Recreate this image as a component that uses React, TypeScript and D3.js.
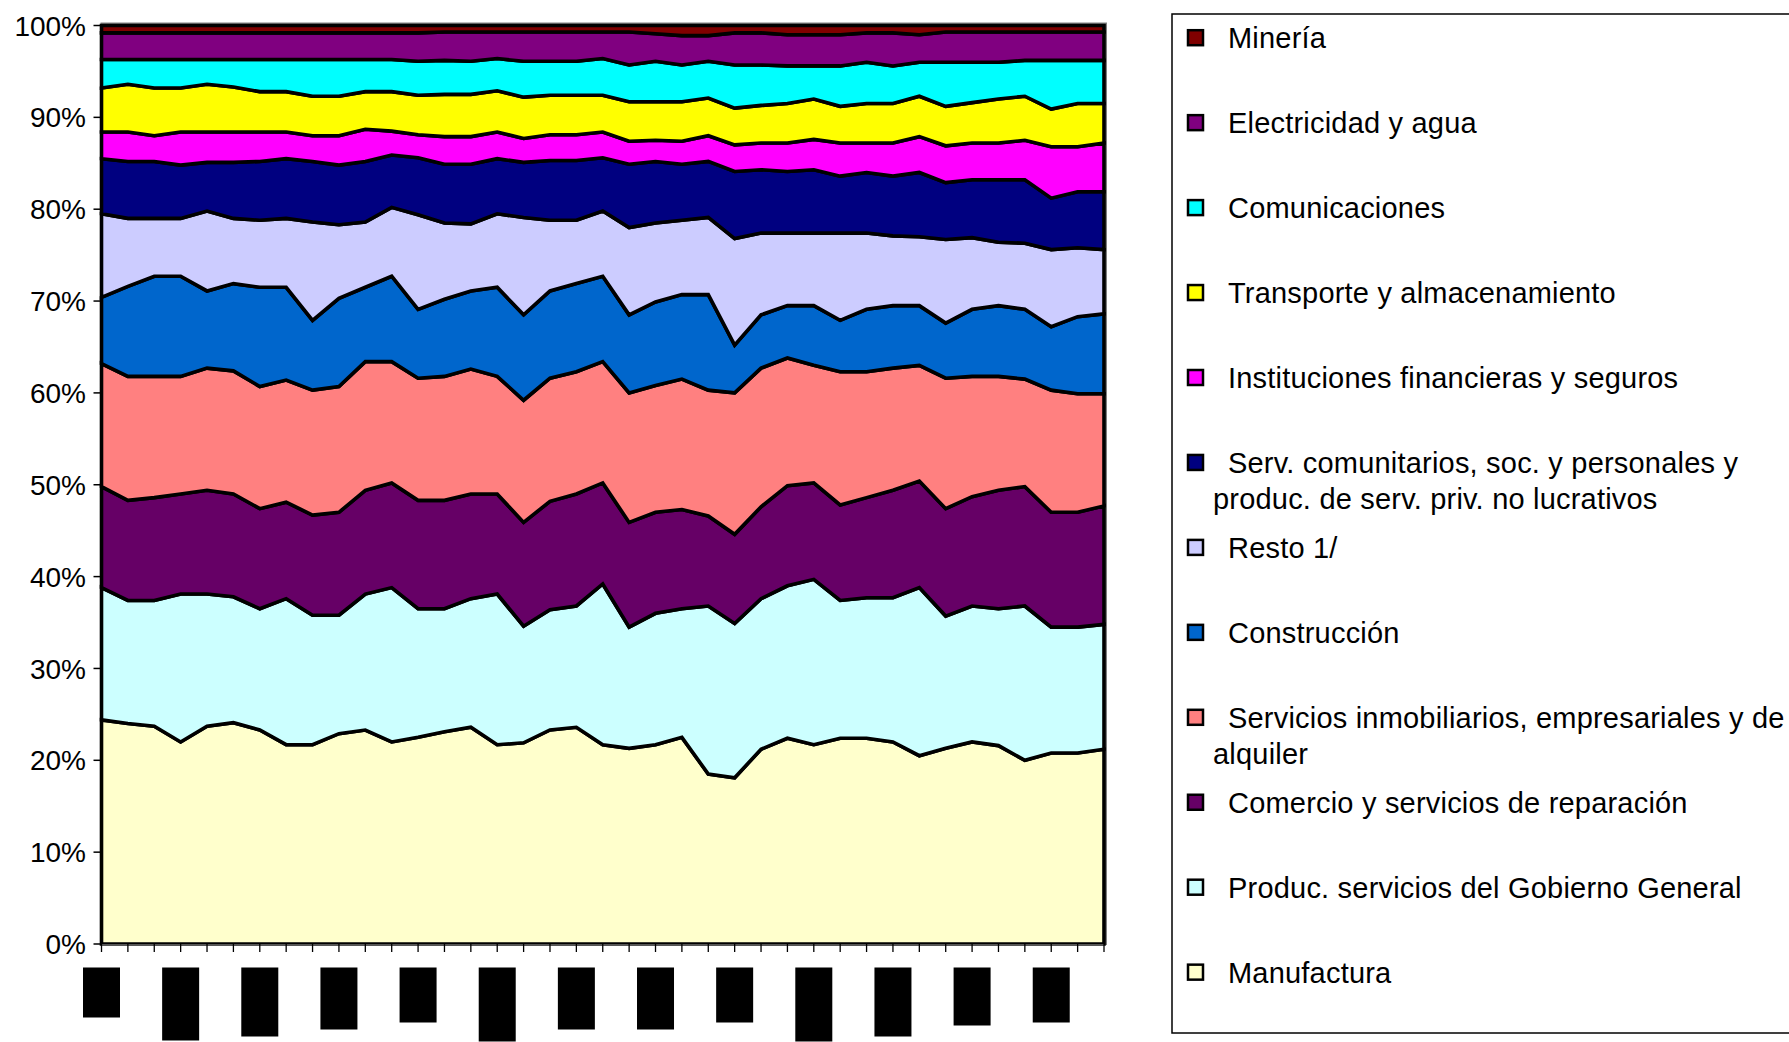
import React from "react";
import * as d3 from "d3";

// Shares (%) by period (39 periods)
const manufactura = [24.4, 24.0, 23.7, 22.0, 23.7, 24.1, 23.3, 21.7, 21.7, 22.9, 23.3, 22.0, 22.5, 23.1, 23.6, 21.7, 21.9, 23.3, 23.6, 21.7, 21.3, 21.7, 22.5, 18.5, 18.1, 21.2, 22.4, 21.7, 22.4, 22.4, 22.0, 20.5, 21.3, 22.0, 21.6, 20.0, 20.8, 20.8, 21.2];
const gobierno = [14.4, 13.4, 13.7, 16.1, 14.4, 13.7, 13.2, 15.9, 14.1, 12.9, 14.8, 16.8, 14.0, 13.4, 14.0, 16.4, 12.7, 13.1, 13.2, 17.5, 13.2, 14.3, 14.0, 18.3, 16.8, 16.4, 16.6, 18.0, 15.0, 15.3, 15.7, 18.3, 14.4, 14.8, 14.9, 16.8, 13.7, 13.7, 13.6];
const comercio = [11.0, 10.9, 11.2, 10.9, 11.3, 11.2, 10.9, 10.5, 10.9, 11.2, 11.3, 11.4, 11.8, 11.8, 11.4, 10.9, 11.3, 11.8, 12.2, 11.0, 11.4, 11.0, 10.8, 9.8, 9.7, 10.0, 10.9, 10.5, 10.4, 10.9, 11.7, 11.6, 11.7, 11.9, 12.9, 13.0, 12.5, 12.5, 12.9];
const inmobiliarios = [13.4, 13.5, 13.2, 12.8, 13.3, 13.4, 13.3, 13.3, 13.6, 13.7, 14.0, 13.2, 13.3, 13.5, 13.6, 12.8, 13.3, 13.4, 13.3, 13.2, 14.1, 13.8, 14.2, 13.7, 15.4, 15.1, 13.9, 12.8, 14.5, 13.7, 13.3, 12.6, 14.2, 13.1, 12.4, 11.7, 13.3, 12.9, 12.2];
const construccion = [7.2, 9.8, 10.9, 10.9, 8.4, 9.5, 10.8, 10.1, 7.6, 9.6, 8.1, 9.3, 7.5, 8.4, 8.5, 9.7, 9.3, 9.5, 9.6, 9.3, 8.5, 9.1, 9.2, 10.4, 5.2, 5.8, 5.7, 6.5, 5.6, 6.8, 6.8, 6.5, 6.0, 7.3, 7.7, 7.6, 6.9, 8.4, 8.7];
const resto = [9.1, 7.4, 6.3, 6.3, 8.7, 7.1, 7.3, 7.5, 10.7, 8.0, 7.1, 7.5, 10.3, 8.3, 7.3, 8.0, 10.6, 7.7, 6.9, 7.1, 9.5, 8.6, 8.1, 8.4, 11.6, 8.9, 7.9, 7.9, 9.5, 8.3, 7.6, 7.5, 9.1, 7.8, 6.9, 7.2, 8.4, 7.5, 7.0];
const servComunitarios = [6.0, 6.2, 6.2, 5.8, 5.3, 6.1, 6.4, 6.5, 6.6, 6.5, 6.6, 5.7, 6.2, 6.4, 6.5, 6.0, 6.0, 6.5, 6.5, 5.8, 6.9, 6.7, 6.1, 6.1, 7.3, 6.9, 6.7, 6.9, 6.2, 6.6, 6.5, 7.0, 6.2, 6.3, 6.8, 6.9, 5.6, 6.1, 6.3];
const financieras = [2.9, 3.2, 2.8, 3.6, 3.3, 3.3, 3.2, 2.9, 2.8, 3.2, 3.5, 2.6, 2.5, 3.0, 3.0, 2.9, 2.6, 2.8, 2.8, 2.8, 2.5, 2.3, 2.5, 2.8, 2.9, 2.9, 3.1, 3.3, 3.6, 3.2, 3.6, 3.9, 4.0, 4.0, 4.0, 4.3, 5.6, 4.9, 5.3];
const transporte = [4.8, 5.2, 5.2, 4.8, 5.2, 4.9, 4.4, 4.4, 4.3, 4.3, 4.1, 4.3, 4.3, 4.6, 4.6, 4.5, 4.5, 4.3, 4.3, 4.0, 4.3, 4.2, 4.3, 4.1, 4.0, 4.1, 4.3, 4.4, 4.0, 4.3, 4.3, 4.4, 4.3, 4.4, 4.8, 4.8, 4.1, 4.7, 4.3];
const comunicaciones = [3.1, 2.7, 3.1, 3.1, 2.7, 3.0, 3.5, 3.5, 4.0, 4.0, 3.5, 3.5, 3.7, 3.7, 3.6, 3.5, 3.9, 3.7, 3.7, 4.0, 4.0, 4.4, 4.0, 4.0, 4.7, 4.4, 4.1, 3.6, 4.4, 4.5, 4.1, 3.7, 4.8, 4.4, 4.0, 3.9, 5.3, 4.7, 4.7];
const electricidad = [2.9, 2.9, 2.9, 2.9, 2.9, 2.9, 2.9, 2.9, 2.9, 2.9, 2.9, 2.9, 3.1, 3.1, 3.2, 2.9, 3.2, 3.2, 3.2, 2.9, 3.6, 3.0, 3.2, 2.8, 3.5, 3.5, 3.4, 3.4, 3.4, 3.2, 3.6, 3.0, 3.3, 3.3, 3.3, 3.1, 3.1, 3.1, 3.1];
const mineria = [0.8, 0.8, 0.8, 0.8, 0.8, 0.8, 0.8, 0.8, 0.8, 0.8, 0.8, 0.8, 0.8, 0.7, 0.7, 0.7, 0.7, 0.7, 0.7, 0.7, 0.7, 0.9, 1.1, 1.1, 0.8, 0.8, 1.0, 1.0, 1.0, 0.8, 0.8, 1.0, 0.7, 0.7, 0.7, 0.7, 0.7, 0.7, 0.7];

// Periods (their labels are blacked out in the reference); every third one carries a label box
const periods = d3.range(manufactura.length);
const labelBoxLengths = [50, 73, 69, 62, 55, 74, 62, 62, 55, 74, 69, 58, 55];
const yTicks = [0, 0.1, 0.2, 0.3, 0.4, 0.5, 0.6, 0.7, 0.8, 0.9, 1];

// Series, bottom of the stack first
const seriesKeys = ["manufactura", "gobierno", "comercio", "inmobiliarios", "construccion", "resto", "servComunitarios", "financieras", "transporte", "comunicaciones", "electricidad", "mineria"];
const seriesValues = { manufactura, gobierno, comercio, inmobiliarios, construccion, resto, servComunitarios, financieras, transporte, comunicaciones, electricidad, mineria };
const seriesColors = ["#FFFFCC", "#CCFFFF", "#660066", "#FF8080", "#0066CC", "#CCCCFF", "#000080", "#FF00FF", "#FFFF00", "#00FFFF", "#800080", "#800000"];
// Legend, top to bottom
const legendKeys = ["mineria", "electricidad", "comunicaciones", "transporte", "financieras", "servComunitarios", "resto", "construccion", "inmobiliarios", "comercio", "gobierno", "manufactura"];
const legendLabels = [
  ["Minería"],
  ["Electricidad y agua"],
  ["Comunicaciones"],
  ["Transporte y almacenamiento"],
  ["Instituciones financieras y seguros"],
  ["Serv. comunitarios, soc. y personales y", "produc. de serv. priv. no lucrativos"],
  ["Resto 1/"],
  ["Construcción"],
  ["Servicios inmobiliarios, empresariales y de", "alquiler"],
  ["Comercio y servicios de reparación"],
  ["Produc. servicios del Gobierno General"],
  ["Manufactura"],
];

const W = 1789;
const H = 1042;
const plot = { left: 101.5, right: 1104, top: 25.5, bottom: 944 };
const FONT = "'Liberation Sans', Arial, Helvetica, sans-serif";

export default function App() {
  const table = periods.map((p) => {
    const row: any = { period: p };
    seriesKeys.forEach((k) => (row[k] = (seriesValues as any)[k][p]));
    return row;
  });
  const stacked = d3.stack().keys(seriesKeys).offset(d3.stackOffsetExpand)(table);

  const x = d3.scaleLinear().domain([0, periods.length - 1]).range([plot.left, plot.right]);
  const y = d3.scaleLinear().domain([0, 1]).range([plot.bottom, plot.top]);

  const area = d3
    .area<any>()
    .x((d) => x(d.data.period))
    .y0((d) => y(d[0]))
    .y1((d) => y(d[1]));

  const labelled = periods.filter((p) => p % 3 === 0);
  const legendTop = 37.7;
  const legendStep = 84.95;

  return (
    <svg width={W} height={H} style={{ position: "absolute", left: 0, top: 0, background: "#fff" }} fontFamily={FONT}>
      <rect x={0} y={0} width={W} height={H} fill="#fff" />
      {/* plot frame */}
      <rect x={plot.left} y={plot.top - 2} width={plot.right - plot.left + 2} height={plot.bottom - plot.top + 2} fill="none" stroke="#808080" strokeWidth={2} />
      {/* areas */}
      {stacked.map((s, i) => (
        <path key={s.key} d={area(s as any) || ""} fill={seriesColors[i]} stroke="#000" strokeWidth={3.6} strokeLinejoin="miter" strokeMiterlimit={3} />
      ))}
      {/* axes */}
      <line x1={plot.left} x2={plot.left} y1={plot.top} y2={plot.bottom} stroke="#000" strokeWidth={2.5} />
      <line x1={plot.left} x2={plot.right} y1={plot.bottom + 1} y2={plot.bottom + 1} stroke="#555" strokeWidth={2} />
      {yTicks.map((t) => (
        <g key={t}>
          <line x1={plot.left - 8} x2={plot.left} y1={y(t)} y2={y(t)} stroke="#000" strokeWidth={1.5} />
          <text x={86} y={y(t)} dy="0.36em" textAnchor="end" fontSize={28} fill="#000">
            {d3.format(".0%")(t)}
          </text>
        </g>
      ))}
      {periods.map((p) => (
        <line key={p} x1={x(p)} x2={x(p)} y1={plot.bottom} y2={plot.bottom + 8} stroke="#000" strokeWidth={1.3} />
      ))}
      {/* blacked-out period labels */}
      {labelled.map((p, k) => (
        <rect key={p} x={x(p) - 18.5} y={967.5} width={37} height={labelBoxLengths[k]} fill="#000" />
      ))}
      {/* legend */}
      <rect x={1172} y={14} width={700} height={1019} fill="#fff" stroke="#000" strokeWidth={1.5} />
      {legendKeys.map((k, i) => {
        const cy = legendTop + i * legendStep;
        const color = seriesColors[seriesKeys.indexOf(k)];
        const lines = legendLabels[i];
        return (
          <g key={k}>
            <rect x={1188} y={cy - 7.5} width={15} height={15} fill={color} stroke="#000" strokeWidth={2.5} />
            {lines.map((ln, j) => (
              <text key={j} x={j === 0 ? 1228 : 1213} y={cy + j * 36.5} dy="0.36em" fontSize={29} letterSpacing={0.2} fill="#000">
                {ln}
              </text>
            ))}
          </g>
        );
      })}
    </svg>
  );
}
